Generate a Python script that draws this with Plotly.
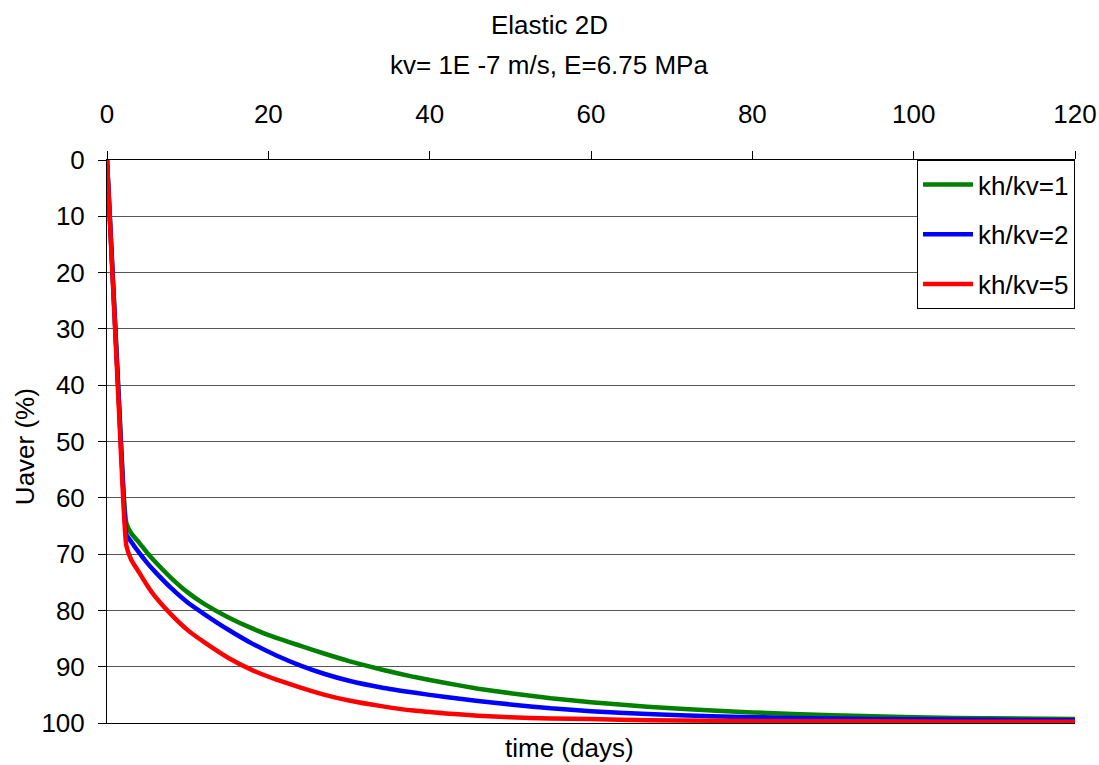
import plotly.graph_objects as go

# Time axis (days) shared by the three runs
time_days = [0, 0.5, 1, 1.5, 2, 2.4, 3, 4, 5, 6, 8, 10, 12, 15, 18, 21, 24, 27, 30,
             34, 38, 42, 46, 50, 55, 60, 67, 75, 85, 95, 105, 120]

# Average degree of consolidation Uaver (%) for each permeability ratio
u_kh_kv_1 = [0, 14.5, 29, 43.5, 58, 64.5, 66.3, 68.0, 69.8, 71.4, 74.3, 76.8, 78.8, 81.2,
             83.2, 84.9, 86.3, 87.7, 89.0, 90.5, 91.8, 92.9, 93.9, 94.7, 95.6, 96.3,
             97.1, 97.8, 98.4, 98.8, 99.1, 99.3]
u_kh_kv_2 = [0, 14.5, 29, 43.5, 58, 66.5, 67.8, 69.8, 71.6, 73.2, 76.1, 78.6, 80.6, 83.4,
             85.9, 88.0, 89.8, 91.3, 92.5, 93.7, 94.6, 95.4, 96.1, 96.7, 97.4, 97.9,
             98.4, 98.8, 99.1, 99.3, 99.4, 99.5]
u_kh_kv_5 = [0, 15, 30, 45, 60, 68.5, 71.0, 73.3, 75.6, 77.6, 80.8, 83.5, 85.6, 88.4,
             90.6, 92.3, 93.7, 95.0, 96.0, 97.0, 97.8, 98.3, 98.7, 99.0, 99.2, 99.3,
             99.5, 99.6, 99.7, 99.7, 99.8, 99.8]

series_names = ["kh/kv=1", "kh/kv=2", "kh/kv=5"]
series_values = [u_kh_kv_1, u_kh_kv_2, u_kh_kv_5]
series_colors = ["#008000", "#0000FF", "#FF0000"]

x_ticks = [0, 20, 40, 60, 80, 100, 120]
y_ticks = [0, 10, 20, 30, 40, 50, 60, 70, 80, 90, 100]

FONT = "Liberation Sans, Arial, sans-serif"

fig = go.Figure()
for name, vals, col in zip(series_names, series_values, series_colors):
    fig.add_trace(go.Scatter(
        x=time_days, y=vals, name=name, mode="lines", legendgroup=name,
        line=dict(color=col, width=4.5, shape="spline", smoothing=0.5),
    ))

fig.update_layout(
    width=1099, height=765,
    margin=dict(l=107, r=24, t=160, b=42, autoexpand=False),
    paper_bgcolor="white", plot_bgcolor="white",
    font=dict(family=FONT, size=26, color="black"),
    showlegend=True,
    legend=dict(
        x=0.8368, y=1, xanchor="left", yanchor="top",
        bgcolor="white", bordercolor="black", borderwidth=1,
        font=dict(size=26), traceorder="grouped", tracegroupgap=13,
        itemwidth=50,
    ),
    xaxis=dict(
        range=[0, 120], side="top", tickvals=x_ticks,
        ticks="outside", ticklen=8, tickcolor="black", tickwidth=1,
        showline=True, linecolor="black", linewidth=1, mirror=True,
        showgrid=False, zeroline=False, ticklabelstandoff=18,
        automargin=False,
    ),
    yaxis=dict(
        range=[100, 0], tickvals=y_ticks,
        ticks="outside", ticklen=8, tickcolor="black", tickwidth=1,
        showline=True, linecolor="black", linewidth=1,
        showgrid=True, gridcolor="#555555", gridwidth=1,
        zeroline=False, ticklabelstandoff=8, automargin=False,
    ),
    annotations=[
        dict(text="Elastic 2D", xref="paper", yref="paper", x=0.457, y=1.2398,
             xanchor="center", yanchor="middle", showarrow=False),
        dict(text="kv= 1E -7 m/s, E=6.75 MPa", xref="paper", yref="paper",
             x=0.457, y=1.1687, xanchor="center", yanchor="middle", showarrow=False),
        dict(text="time (days)", xref="paper", yref="paper", x=0.4773, y=-0.0444,
             xanchor="center", yanchor="middle", showarrow=False),
        dict(text="Uaver (%)", xref="paper", yref="paper", x=-0.0847, y=0.49,
             xanchor="center", yanchor="middle", textangle=-90, showarrow=False),
    ],
)

fig.write_html("out.html")
